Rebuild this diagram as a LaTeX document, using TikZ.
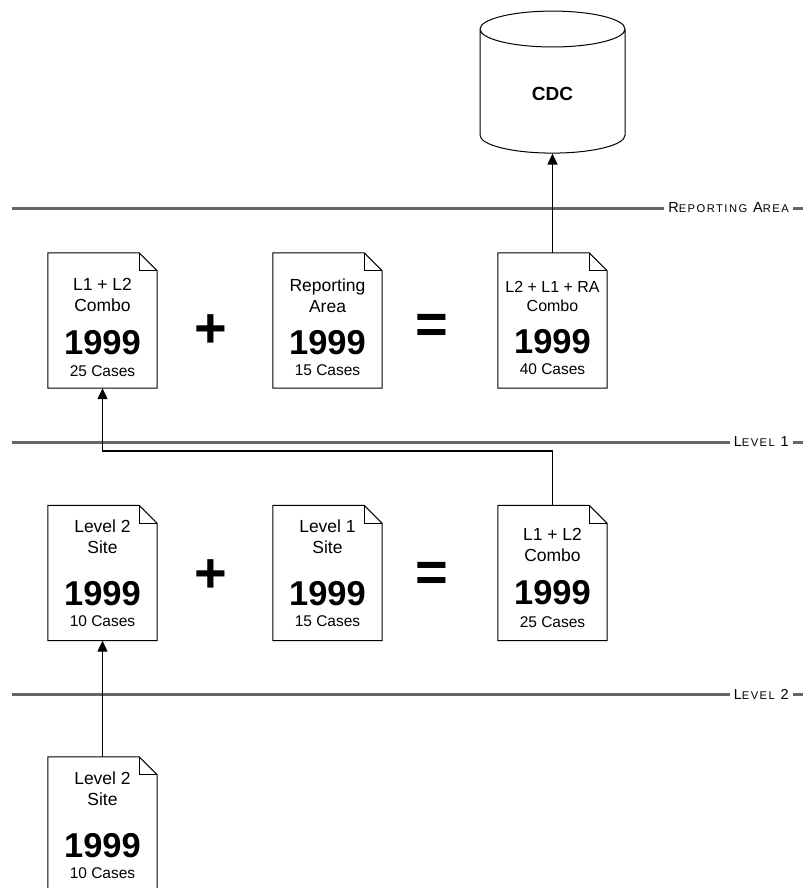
\documentclass[tikz,border=0pt]{standalone}
\usepackage{fontspec}
\setmainfont{Liberation Sans}
\newfontfamily\levelfont[LetterSpace=13]{Liberation Sans}
\usetikzlibrary{shapes.geometric,arrows.meta}
\definecolor{levelgray}{RGB}{102,102,102}
\newcommand{\docyear}[1]{{\fontsize{34.5}{36}\selectfont\bfseries #1}}
\newcommand{\doccases}[1]{{\fontsize{15.5}{18}\selectfont #1}}
\newcommand{\lvsmall}[1]{{\fontsize{11.2}{12}\selectfont #1}}

\begin{document}
\begin{tikzpicture}
[x=1pt,y=-1pt,
  docDecorate/.style={shape=rectangle,minimum width=109pt,minimum height=135pt,inner sep=0pt,fill=white},%
  foldDecorate/.style={draw=black,line width=1pt,line join=miter},%
  docText/.style={anchor=north,align=center,inner sep=0pt,font=\fontsize{17.5}{21}\selectfont},%
  lineDecorate/.style={-{Triangle[length=11pt,width=10pt]},line width=1.2pt},%
  levelLine/.style={draw=levelgray,line width=3pt},%
  levelLabel/.style={anchor=east,fill=white,inner xsep=4pt,inner ysep=2pt,font=\levelfont\fontsize{14.5}{16}\selectfont},%
  opDecorate/.style={inner sep=0pt,font=\fontsize{56}{56}\selectfont\bfseries}]
\useasboundingbox (0,0) rectangle (808,888);
%% level lines
\foreach \liney in {208, 442, 694}
{
  \draw[levelLine] (12,\liney) -- (803,\liney);
}
\node (raLabel) [levelLabel] at (793,208) {R\lvsmall{EPORTING} A\lvsmall{REA}};
\node (l1Label) [levelLabel] at (793,442) {L\lvsmall{EVEL} 1};
\node (l2Label) [levelLabel] at (793,694) {L\lvsmall{EVEL} 2};
%% documents
\foreach \docname/\x/\y in {
  l1combo/102.5/320.5, rarea/327.5/320.5, racombo/552.5/320.5,
  l2site/102.5/573, l1site/327.5/573, l1l2combo/552.5/573, l2src/102.5/824.5}
{
  \node (\docname) at (\x,\y) [docDecorate] {};
  \draw[foldDecorate] (\docname.north west) -- ([xshift=-18pt]\docname.north east)
    -- ([yshift=-18pt]\docname.north east) -- (\docname.south east)
    -- (\docname.south west) -- cycle;
  \draw[foldDecorate] ([xshift=-18pt]\docname.north east)
    |- ([yshift=-18pt]\docname.north east);
}
%% document texts
\node (l1comboText) [docText,yshift=-25pt] at (l1combo.north)
  {L1 + L2\\Combo\\[18pt]\docyear{1999}\\[1.5pt]\doccases{25 Cases}};
\node (rareaText) [docText,yshift=-26pt] at (rarea.north)
  {Reporting\\Area\\[17pt]\docyear{1999}\\\doccases{15 Cases}};
\node (racomboText) [docText,font=\fontsize{16}{19}\selectfont,yshift=-28pt] at (racombo.north)
  {L2 + L1 + RA\\Combo\\[17pt]\docyear{1999}\\[2.5pt]\doccases{40 Cases}};
\node (l2siteText) [docText,yshift=-14.5pt] at (l2site.north)
  {Level 2\\Site\\[27pt]\docyear{1999}\\\doccases{10 Cases}};
\node (l1siteText) [docText,yshift=-14.5pt] at (l1site.north)
  {Level 1\\Site\\[27pt]\docyear{1999}\\\doccases{15 Cases}};
\node (l1l2comboText) [docText,yshift=-23pt] at (l1l2combo.north)
  {L1 + L2\\Combo\\[18pt]\docyear{1999}\\[1.5pt]\doccases{25 Cases}};
\node (l2srcText) [docText,yshift=-14.5pt] at (l2src.north)
  {Level 2\\Site\\[27pt]\docyear{1999}\\\doccases{10 Cases}};
%% operators
\node (plusTop) [opDecorate] at (211,331) {+};
\node (eqTop) [opDecorate] at (431.5,329) {=};
\node (plusMid) [opDecorate] at (211,576) {+};
\node (eqMid) [opDecorate] at (431.5,577) {=};
%% database
\node (cdc) [cylinder,shape border rotate=90,aspect=0.75,draw,line width=1pt,fill=white,
  minimum width=145pt,minimum height=142pt,font=\fontsize{19}{22}\selectfont\bfseries]
  at (552.5,94) {CDC};
%% connectors
\coordinate (l1bend) at (102.5,451);
\draw[lineDecorate] (racombo.north) -- (cdc);
\draw[lineDecorate] (l1l2combo.north) |- (l1bend) -- (l1combo.south);
\draw[lineDecorate] (l2src.north) -- (l2site.south);
\end{tikzpicture}
\end{document}
